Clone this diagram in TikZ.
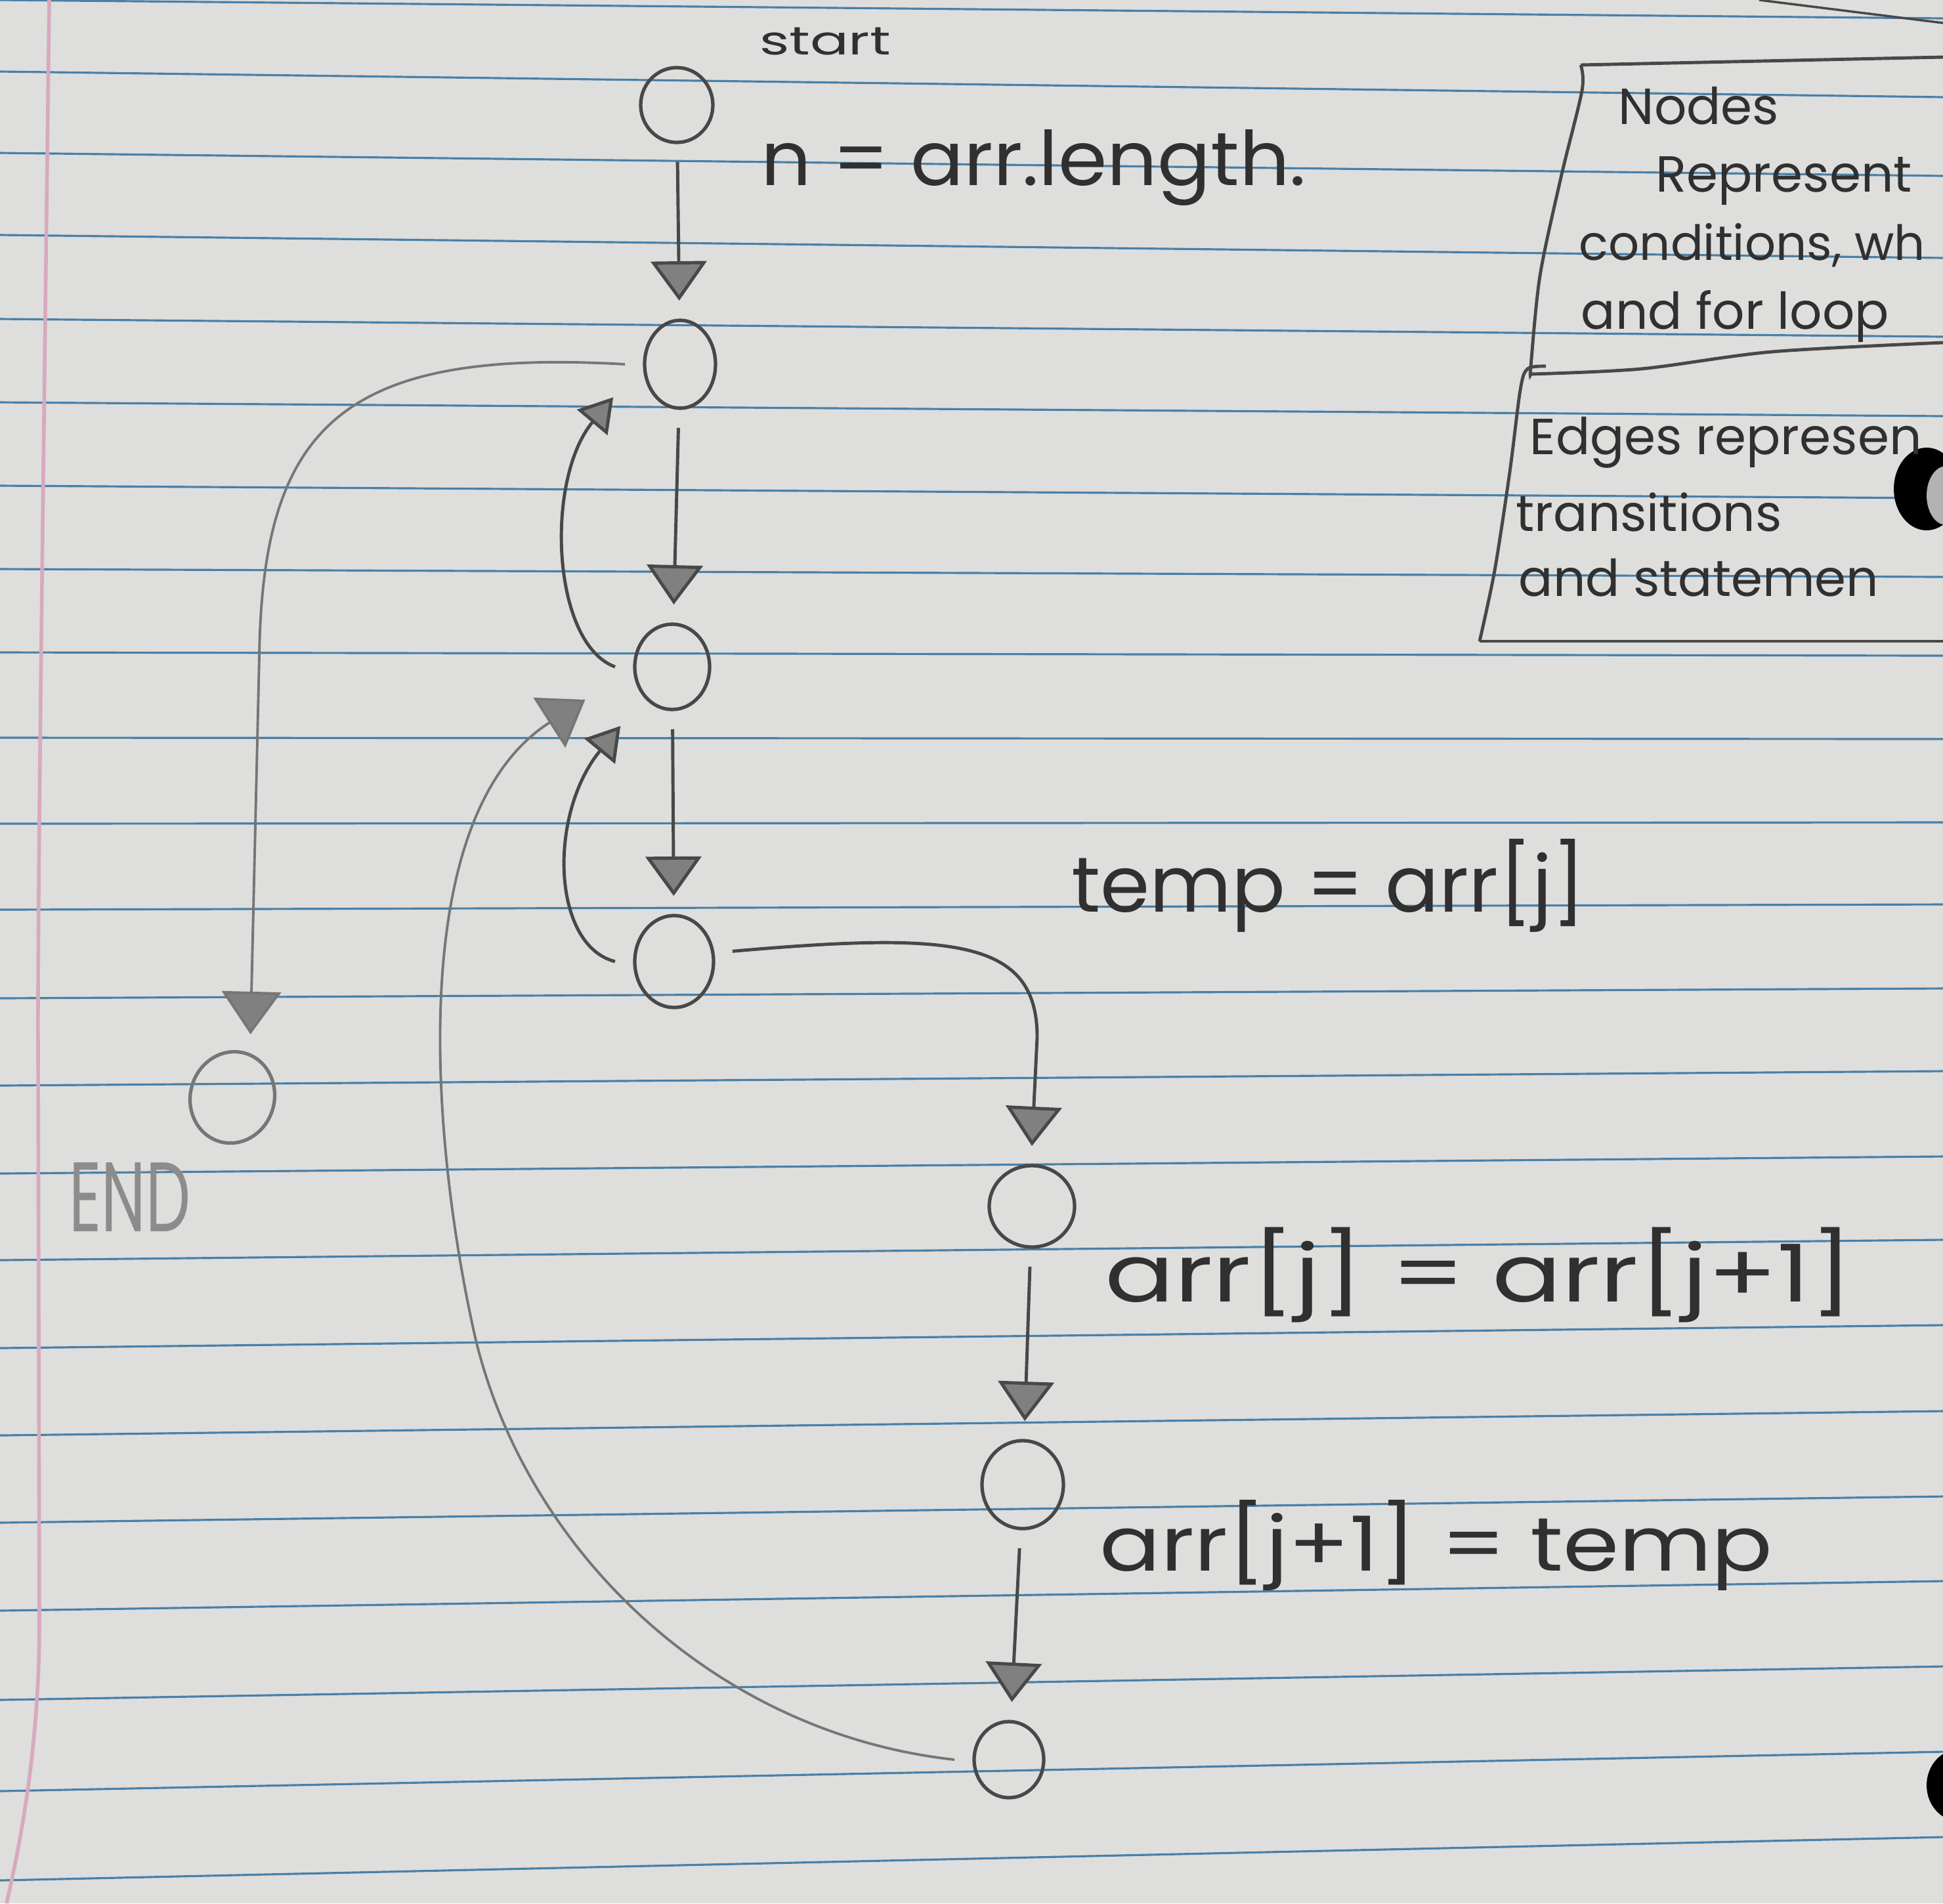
\documentclass[tikz,border=0pt]{standalone}
\usepackage{fontspec}
\usepackage{graphicx}
\setmainfont{Poppins}
\usetikzlibrary{arrows.meta,shapes.geometric}

\definecolor{paper}{RGB}{222,222,220}
\definecolor{ruled}{RGB}{72,128,168}
\definecolor{margin}{RGB}{214,170,190}
\definecolor{pencil}{RGB}{72,72,72}
\definecolor{faint}{RGB}{118,118,118}
\definecolor{headgray}{RGB}{128,128,128}
\definecolor{ink}{RGB}{48,48,48}
\definecolor{endgray}{RGB}{140,140,140}

% handwritten text squeezed into the box it takes on the sheet
\newcommand{\hand}[3]{\resizebox*{#1}{#2}{#3}}

\tikzset{
	cfgnode/.style={ellipse, draw=pencil, line width=1.5pt, inner sep=0pt, outer sep=3mm},
	flow/.style={pencil, line width=1.4pt, -{Triangle[length=6mm, width=8.5mm, fill=headgray]}},
	loopflow/.style={pencil, line width=1.4pt, -{Triangle[length=5mm, width=6mm, fill=headgray]}},
	faintflow/.style={faint, line width=1.1pt, -{Triangle[length=6.5mm, width=9mm, fill=headgray]}},
	codetext/.style={inner sep=0pt, text=ink},
	legendtxt/.style={anchor=base west, inner sep=0pt, text=ink, font=\fontsize{22}{26}\selectfont},
	rule/.style={ruled, line width=0.9pt}
}

\begin{document}
\begin{tikzpicture}[x=1cm, y=-1cm]
		% Blatt
		\useasboundingbox (0,0) rectangle (29.6,29);
		\fill [paper] (0,0) rectangle (29.6,29);
		\foreach \l/\r in {0.00/0.28, 1.09/1.48, 2.33/2.68, 3.58/3.93, 4.86/5.13, 6.13/6.34,
			7.40/7.59, 8.67/8.79, 9.94/9.99, 11.24/11.26, 12.55/12.53, 13.86/13.78,
			15.21/15.06, 16.54/16.32, 17.88/17.62, 19.20/18.89, 20.54/20.19, 21.87/21.50,
			23.20/22.80, 24.54/24.09, 25.90/25.39, 27.29/26.69, 28.65/27.99}
			\draw [rule] (0,\l) -- (29.6,\r);
		\draw [margin, line width=1.6pt] (0.75,0) .. controls (0.65,8) and (0.57,14) .. (0.58,16)
			-- (0.60,24.7) .. controls (0.60,26.5) and (0.35,27.9) .. (0.10,29);
		\draw [pencil, line width=1pt] (26.8,0) -- (29.6,0.35);
		\fill [black] (29.35,7.45) ellipse [x radius=0.5, y radius=0.63];
		\fill [gray!60] (29.65,7.55) ellipse [x radius=0.3, y radius=0.45];
		\fill [black] (29.85,27.2) ellipse [x radius=0.5, y radius=0.55];

		% Knoten
		\node [cfgnode, minimum width=1.10cm, minimum height=1.14cm] (start) at (10.31,1.60) {};
		\node [cfgnode, minimum width=1.08cm, minimum height=1.34cm] (outer) at (10.36,5.55) {};
		\node [cfgnode, minimum width=1.14cm, minimum height=1.30cm] (inner) at (10.24,10.16) {};
		\node [cfgnode, minimum width=1.20cm, minimum height=1.40cm] (cond) at (10.27,14.65) {};
		\node [cfgnode, draw=faint, minimum width=1.28cm, minimum height=1.40cm, rotate=-16] (finish) at (3.54,16.72) {};
		\node [cfgnode, minimum width=1.30cm, minimum height=1.24cm] (swapa) at (15.72,18.38) {};
		\node [cfgnode, minimum width=1.24cm, minimum height=1.34cm] (swapb) at (15.58,22.62) {};
		\node [cfgnode, minimum width=1.06cm, minimum height=1.16cm] (swapc) at (15.37,26.81) {};

		% Beschriftung
		\node [codetext] (startlbl) at (12.57,0.63) {\hand{2.0cm}{0.42cm}{start}};
		\node [codetext] (init) at (15.75,2.55) {\hand{8.3cm}{1.16cm}{n = arr.length.}};
		\node [codetext] (tmp) at (20.24,13.49) {\hand{7.83cm}{1.42cm}{temp = arr[j]}};
		\node [codetext] (shift) at (22.54,19.43) {\hand{11.4cm}{1.45cm}{arr[j] = arr[j+1]}};
		\node [codetext] (store) at (21.88,23.54) {\hand{10.25cm}{1.38cm}{arr[j+1] = temp}};
		\node [codetext, text=endgray] (endlbl) at (1.98,18.24) {\hand{1.85cm}{1.05cm}{END}};

		% Kanten
		\draw [flow] (start) -- (outer);
		\draw [flow] (outer) -- (inner);
		\draw [flow] (inner) -- (cond);
		\draw [flow] (swapa) -- (swapb);
		\draw [flow] (swapb) -- (swapc);
		\draw [flow] (cond.10) .. controls (14.5,14.2) and (15.8,14.3) .. (15.8,15.8) -- (swapa.north);
		\draw [loopflow] (inner.west) .. controls (8.4,9.8) and (8.3,7.3) .. ([xshift=-3mm]outer.215);
		\draw [loopflow] (cond.west) .. controls (8.4,14.4) and (8.35,12.4) .. ([xshift=-2mm,yshift=-2mm]inner.230);
		\draw [faintflow] (outer.west) .. controls (5.2,5.3) and (4.0,6.5) .. (3.95,10) -- (finish.north);
		\draw [faintflow] (swapc.west) .. controls (10.8,26.4) and (7.9,23.5) .. (7.2,20.2)
			.. controls (6.55,17.2) and (6.2,12.4) .. ([xshift=-5mm,yshift=-2mm]inner.200);

		% Legende
		\draw [pencil, line width=1.4pt] (24.08,0.99) -- (29.6,0.87);
		\draw [pencil, line width=1.4pt] plot [smooth] coordinates {(24.08,0.99) (24.10,1.38) (23.78,2.70) (23.46,4.20) (23.32,5.58) (23.32,5.70)};
		\draw [pencil, line width=1.4pt] plot [smooth] coordinates {(23.32,5.70) (25.0,5.62) (26.99,5.36) (29.6,5.22)};
		\draw [pencil, line width=1.4pt] plot [smooth] coordinates {(23.55,5.58) (23.27,5.62) (23.16,5.94) (23.00,7.19) (22.77,8.69) (22.54,9.77)};
		\draw [pencil, line width=1.4pt] (22.54,9.77) -- (29.6,9.77);
		\node [legendtxt] (lg1) at (24.65,1.89) {Nodes};
		\node [legendtxt] (lg2) at (25.22,2.92) {Represent};
		\node [legendtxt, font=\fontsize{21}{25}\selectfont] (lg3) at (24.05,3.96) {conditions, wh};
		\node [legendtxt] (lg4) at (24.08,5.01) {and for loop};
		\node [legendtxt] (lg5) at (23.30,6.92) {Edges represen};
		\node [legendtxt] (lg6) at (23.09,8.09) {transitions};
		\node [legendtxt] (lg7) at (23.13,9.08) {and statemen};
\end{tikzpicture}
\end{document}
